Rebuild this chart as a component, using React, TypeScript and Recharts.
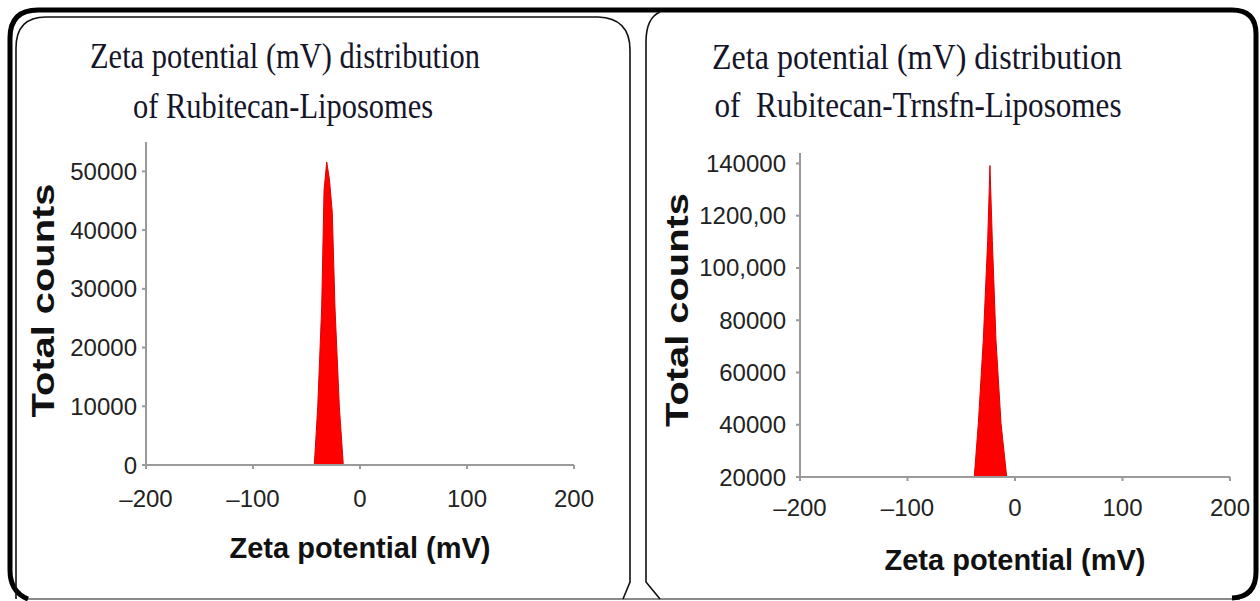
import React from 'react';
import { AreaChart, Area, XAxis, YAxis, Label } from 'recharts';

// ---- data ----
const xTicks = [-200, -100, 0, 100, 200];

const leftYTicks = [0, 10000, 20000, 30000, 40000, 50000];
const leftZeta = [-200, -42.7, -39.5, -35.8, -33.6, -31.1, -28.5, -25.9, -23.4, -19.3, -15.6, 200];
const leftCounts = [0, 0, 9900, 26900, 46800, 51600, 48500, 43000, 26900, 9900, 0, 0];

const rightYTicks = [20000, 40000, 60000, 80000, 100000, 120000, 140000];
const rightYTickLabels = ['20000', '40000', '60000', '80000', '100,000', '1200,00', '140000'];
const rightZeta = [-200, -37.9, -34.1, -29.5, -25.4, -23.3, -21.1, -17.7, -13.0, -7.7, 200];
const rightCounts = [20000, 20000, 40500, 72400, 110600, 139200, 110600, 72400, 40500, 20000, 20000];

const leftTitle = ['Zeta potential (mV) distribution', 'of Rubitecan-Liposomes'];
const rightTitle = ['Zeta potential (mV) distribution', 'of  Rubitecan-Trnsfn-Liposomes'];
const xTitle = 'Zeta potential (mV)';
const yTitle = 'Total counts';

const leftData = leftZeta.map((z, i) => ({ z, c: leftCounts[i] }));
const rightData = rightZeta.map((z, i) => ({ z, c: rightCounts[i] }));

const SANS = "'Liberation Sans', Arial, sans-serif";
const SERIF = "'Liberation Serif', 'Times New Roman', serif";
const AXIS = '#9a9a9a';

const fmtX = (v: number) => (v < 0 ? '\u2013' + Math.abs(v) : String(v));

const tickStyle = { fill: '#222', fontSize: 24, fontFamily: SANS };

function makeYTitle(dx: number, dy: number) {
  return (props: any) => {
    const vb = props.viewBox || { x: 0, y: 0, width: 0, height: 0 };
    const x = vb.x + dx;
    const y = vb.y + vb.height / 2 + dy;
    return (
      <text
        x={x}
        y={y}
        transform={`rotate(-90 ${x} ${y})`}
        textAnchor="middle"
        dominantBaseline="central"
        fontFamily={SANS}
        fontWeight="bold"
        fontSize={31}
        fill="#111"
        textLength={234}
        lengthAdjust="spacingAndGlyphs"
      >
        {yTitle}
      </text>
    );
  };
}

function makeXTitle(baselineOffset: number) {
  return (props: any) => {
    const vb = props.viewBox || { x: 0, y: 0, width: 0, height: 0 };
    const x = vb.x + vb.width / 2;
    const y = vb.y + baselineOffset;
    return (
      <text x={x} y={y} textAnchor="middle" fontFamily={SANS} fontWeight="bold" fontSize={29} fill="#111">
        {xTitle}
      </text>
    );
  };
}

function Frame() {
  return (
    <svg width={1260} height={601} style={{ position: 'absolute', left: 0, top: 0, pointerEvents: 'none' }}>
      {/* bottom gray line */}
      <line x1={24} y1={599} x2={1240} y2={599} stroke="#8a8a8a" strokeWidth={2} />
      {/* outer thick frame */}
      <path
        d="M 28 599 Q 10 592 10 570 L 10 38 Q 10 10 38 10 L 1232 10 Q 1256 10 1256 34 L 1256 572 Q 1256 597 1232 598"
        fill="none"
        stroke="#000"
        strokeWidth={5}
      />
      {/* left panel thin border */}
      <path
        d="M 16 599 L 16 48 Q 16 17 46 17 L 598 17 Q 630 18 630 50 L 630 582 L 623 599"
        fill="none"
        stroke="#111"
        strokeWidth={1.6}
      />
      {/* right panel thin border */}
      <path d="M 660 12 Q 646 18 646 42 L 646 582 L 660 599" fill="none" stroke="#111" strokeWidth={1.6} />
      {/* titles */}
      <g fontFamily={SERIF} fontSize={35} fill="#15152a">
        <text x={285} y={68} textAnchor="middle" textLength={390} lengthAdjust="spacingAndGlyphs">
          {leftTitle[0]}
        </text>
        <text x={283} y={118} textAnchor="middle" textLength={300} lengthAdjust="spacingAndGlyphs">
          {leftTitle[1]}
        </text>
        <text x={917} y={69} textAnchor="middle" textLength={410} lengthAdjust="spacingAndGlyphs">
          {rightTitle[0]}
        </text>
        <text
          x={918}
          y={117}
          textAnchor="middle"
          textLength={407}
          lengthAdjust="spacingAndGlyphs"
          style={{ whiteSpace: 'pre' }}
        >
          {rightTitle[1]}
        </text>
      </g>
    </svg>
  );
}

export default function App() {
  return (
    <div style={{ position: 'absolute', left: 0, top: 0, width: 1260, height: 601, background: '#fff', overflow: 'hidden' }}>
      {/* Left chart */}
      <div style={{ position: 'absolute', left: 0, top: 130 }}>
        <AreaChart width={630} height={450} data={leftData} margin={{ top: 12, right: 56, left: 20, bottom: 55 }}>
          <XAxis
            dataKey="z"
            type="number"
            domain={[-200, 200]}
            ticks={xTicks}
            interval={0}
            tickFormatter={fmtX}
            height={60}
            tick={tickStyle}
            tickSize={4}
            tickMargin={21}
            axisLine={{ stroke: AXIS, strokeWidth: 2 }}
            tickLine={{ stroke: AXIS, strokeWidth: 2 }}
            allowDataOverflow
          >
            <Label content={makeXTitle(93)} />
          </XAxis>
          <YAxis
            type="number"
            domain={[0, 55000]}
            ticks={leftYTicks}
            interval={0}
            width={126}
            tick={tickStyle}
            tickSize={4}
            tickMargin={5}
            axisLine={{ stroke: AXIS, strokeWidth: 2 }}
            tickLine={{ stroke: AXIS, strokeWidth: 2 }}
            allowDataOverflow
          >
            <Label content={makeYTitle(23, -3)} />
          </YAxis>
          <Area
            type="linear"
            dataKey="c"
            stroke="#e00000"
            strokeWidth={1}
            fill="#ff0000"
            fillOpacity={1}
            isAnimationActive={false}
            dot={false}
            activeDot={false}
          />
        </AreaChart>
      </div>
      {/* Right chart */}
      <div style={{ position: 'absolute', left: 640, top: 130 }}>
        <AreaChart width={620} height={460} data={rightData} margin={{ top: 23, right: 30, left: 20, bottom: 53 }}>
          <XAxis
            dataKey="z"
            type="number"
            domain={[-200, 200]}
            ticks={xTicks}
            interval={0}
            tickFormatter={fmtX}
            height={60}
            tick={tickStyle}
            tickSize={4}
            tickMargin={18}
            axisLine={{ stroke: AXIS, strokeWidth: 2 }}
            tickLine={{ stroke: AXIS, strokeWidth: 2 }}
            allowDataOverflow
          >
            <Label content={makeXTitle(93)} />
          </XAxis>
          <YAxis
            type="number"
            domain={[20000, 144000]}
            ticks={rightYTicks}
            interval={0}
            width={140}
            tickFormatter={(v: number) => rightYTickLabels[rightYTicks.indexOf(v)] ?? String(v)}
            tick={tickStyle}
            tickSize={4}
            tickMargin={10}
            axisLine={{ stroke: AXIS, strokeWidth: 2 }}
            tickLine={{ stroke: AXIS, strokeWidth: 2 }}
            allowDataOverflow
          >
            <Label content={makeYTitle(17, -5)} />
          </YAxis>
          <Area
            type="linear"
            dataKey="c"
            stroke="#e00000"
            strokeWidth={1}
            fill="#ff0000"
            fillOpacity={1}
            isAnimationActive={false}
            dot={false}
            activeDot={false}
          />
        </AreaChart>
      </div>
      <Frame />
    </div>
  );
}
